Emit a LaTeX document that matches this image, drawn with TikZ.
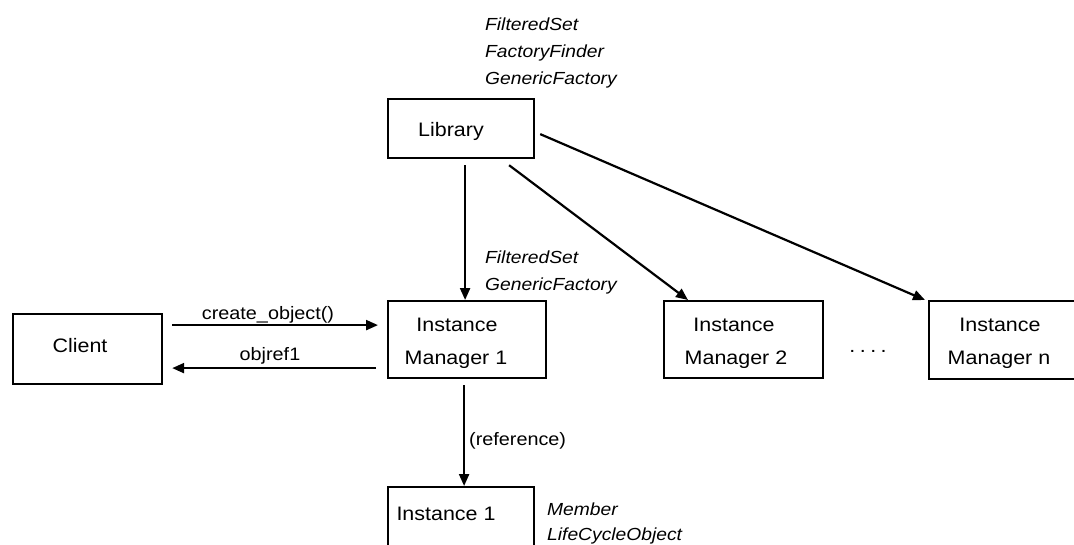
\documentclass[tikz,border=0pt]{standalone}
\usepackage{fontspec}
\setmainfont{Liberation Sans}[FakeStretch=1.1]
\usetikzlibrary{arrows.meta}
\begin{document}
\begin{tikzpicture}[x=1pt,y=-1pt,
  box/.style={draw,line width=2.2pt,rectangle,inner sep=0pt,anchor=north west},
  txt/.style={inner sep=0pt,anchor=base,font=\fontsize{19.5}{23}\selectfont},
  lbl/.style={inner sep=0pt,anchor=base,font=\fontsize{18}{22}\selectfont},
  ital/.style={inner sep=0pt,anchor=base west,font=\fontsize{17.5}{21}\selectfont\itshape},
  arr/.style={line width=2.2pt,-{Triangle[length=12pt,width=10pt]}}]
\useasboundingbox (0,0) rectangle (1074,544);
\clip (0,0) rectangle (1074,544);

% boxes
\node[box,minimum width=146pt,minimum height=59pt] (lib) at (387,98) {};
\node[box,minimum width=149pt,minimum height=70pt] (client) at (12,313) {};
\node[box,minimum width=158pt,minimum height=77pt] (im1) at (387,300) {};
\node[box,minimum width=159pt,minimum height=77pt] (im2) at (663,300) {};
\node[box,minimum width=160pt,minimum height=78pt] (imn) at (928,300) {};
\node[box,minimum width=146pt,minimum height=80pt] (inst1) at (387,486) {};

% box texts
\node[txt] (libtxt) at (451,136) {Library};
\node[txt] (clienttxt) at (80,352) {Client};
\node[txt] (im1a) at (457,331) {Instance};
\node[txt] (im1b) at (456,364) {Manager 1};
\node[txt] (im2a) at (734,331) {Instance};
\node[txt] (im2b) at (736,364) {Manager 2};
\node[txt] (imna) at (1000,331) {Instance};
\node[txt] (imnb) at (999,364) {Manager n};
\node[txt] (inst1txt) at (446,520) {Instance 1};
\node[txt] (dots) at (868,352) {.\hspace{4.5pt}.\hspace{4.5pt}.\hspace{4.5pt}.};

% interface lists
\node[ital] (libif1) at (485,30) {FilteredSet};
\node[ital] (libif2) at (485,57) {FactoryFinder};
\node[ital] (libif3) at (485,84) {GenericFactory};
\node[ital] (imif1) at (485,263) {FilteredSet};
\node[ital] (imif2) at (485,290) {GenericFactory};
\node[ital] (instif1) at (547,515) {Member};
\node[ital] (instif2) at (547,540) {LifeCycleObject};

% connectors
\draw[arr] ([xshift=4pt,yshift=-6pt]lib.south) -- ([xshift=-2pt]im1.north);
\draw[arr] ([xshift=48pt,yshift=-6pt]lib.south) -- ([xshift=25pt]im2.north west);
\draw[arr] ([xshift=5pt,yshift=-5.5pt]lib.east) -- ([xshift=-3pt]imn.north west);
\draw[arr] ([xshift=-3pt,yshift=-6pt]im1.south) -- ([xshift=3pt]inst1.north);
\node[lbl,anchor=base west] (ref) at (469,445) {(reference)};

\draw[arr] ([xshift=9pt,yshift=24pt]client.east) -- ([xshift=-9pt,yshift=14.5pt]im1.west);
\draw[arr] ([xshift=-11pt,yshift=-28.5pt]im1.west) -- ([xshift=9pt,yshift=-19pt]client.east);
\node[lbl] (create) at (268,319) {create\_object()};
\node[lbl] (objref) at (270,360) {objref1};
\end{tikzpicture}
\end{document}
